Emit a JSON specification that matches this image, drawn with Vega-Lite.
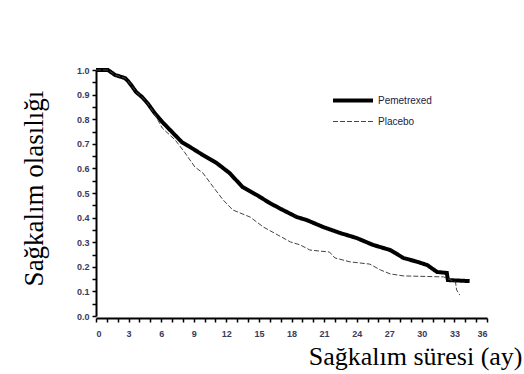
{
  "$schema": "https://vega.github.io/schema/vega-lite/v6.json",
  "width": 391,
  "height": 246,
  "autosize": {"type": "none"},
  "padding": {"left": 96, "top": 70, "right": 37, "bottom": 58},
  "background": "white",
  "config": {"view": {"stroke": null}},
  "data": {
    "values": [
      {"series": "Pemetrexed", "month": 0, "surv": 1.0},
      {"series": "Pemetrexed", "month": 1.1, "surv": 1.0},
      {"series": "Pemetrexed", "month": 1.75, "surv": 0.98},
      {"series": "Pemetrexed", "month": 2.67, "surv": 0.967},
      {"series": "Pemetrexed", "month": 2.95, "surv": 0.955},
      {"series": "Pemetrexed", "month": 3.3, "surv": 0.935},
      {"series": "Pemetrexed", "month": 3.7, "surv": 0.91},
      {"series": "Pemetrexed", "month": 4.24, "surv": 0.89},
      {"series": "Pemetrexed", "month": 4.8, "surv": 0.862},
      {"series": "Pemetrexed", "month": 5.4, "surv": 0.825},
      {"series": "Pemetrexed", "month": 6.1, "surv": 0.789},
      {"series": "Pemetrexed", "month": 7.0, "surv": 0.748},
      {"series": "Pemetrexed", "month": 7.9, "surv": 0.707},
      {"series": "Pemetrexed", "month": 8.66, "surv": 0.687},
      {"series": "Pemetrexed", "month": 9.85, "surv": 0.654},
      {"series": "Pemetrexed", "month": 11.1, "surv": 0.622},
      {"series": "Pemetrexed", "month": 12.3, "surv": 0.581},
      {"series": "Pemetrexed", "month": 13.5, "surv": 0.524},
      {"series": "Pemetrexed", "month": 14.8, "surv": 0.492},
      {"series": "Pemetrexed", "month": 16.0, "surv": 0.459},
      {"series": "Pemetrexed", "month": 17.2, "surv": 0.431},
      {"series": "Pemetrexed", "month": 18.5, "surv": 0.402},
      {"series": "Pemetrexed", "month": 19.4, "surv": 0.39},
      {"series": "Pemetrexed", "month": 20.9, "surv": 0.362},
      {"series": "Pemetrexed", "month": 22.5, "surv": 0.337},
      {"series": "Pemetrexed", "month": 24.0, "surv": 0.317},
      {"series": "Pemetrexed", "month": 25.5, "surv": 0.289},
      {"series": "Pemetrexed", "month": 27.1, "surv": 0.268},
      {"series": "Pemetrexed", "month": 28.3, "surv": 0.236},
      {"series": "Pemetrexed", "month": 29.6, "surv": 0.22},
      {"series": "Pemetrexed", "month": 30.5, "surv": 0.207},
      {"series": "Pemetrexed", "month": 31.4, "surv": 0.179},
      {"series": "Pemetrexed", "month": 32.3, "surv": 0.175},
      {"series": "Pemetrexed", "month": 32.4, "surv": 0.146},
      {"series": "Pemetrexed", "month": 34.4, "surv": 0.142},
      {"series": "Placebo", "month": 0, "surv": 1.0},
      {"series": "Placebo", "month": 1.1, "surv": 1.0},
      {"series": "Placebo", "month": 1.75, "surv": 0.98},
      {"series": "Placebo", "month": 2.67, "surv": 0.967},
      {"series": "Placebo", "month": 2.95, "surv": 0.955},
      {"series": "Placebo", "month": 3.3, "surv": 0.935},
      {"series": "Placebo", "month": 3.7, "surv": 0.91},
      {"series": "Placebo", "month": 4.24, "surv": 0.89},
      {"series": "Placebo", "month": 4.8, "surv": 0.862},
      {"series": "Placebo", "month": 5.4, "surv": 0.82},
      {"series": "Placebo", "month": 6.1, "surv": 0.764},
      {"series": "Placebo", "month": 7.3, "surv": 0.715},
      {"series": "Placebo", "month": 8.2, "surv": 0.663},
      {"series": "Placebo", "month": 9.1, "surv": 0.606},
      {"series": "Placebo", "month": 9.85, "surv": 0.581},
      {"series": "Placebo", "month": 10.8, "surv": 0.524},
      {"series": "Placebo", "month": 11.7, "surv": 0.472},
      {"series": "Placebo", "month": 12.6, "surv": 0.431},
      {"series": "Placebo", "month": 14.2, "surv": 0.402},
      {"series": "Placebo", "month": 15.4, "surv": 0.362},
      {"series": "Placebo", "month": 17.9, "surv": 0.301},
      {"series": "Placebo", "month": 18.8, "surv": 0.289},
      {"series": "Placebo", "month": 19.7, "surv": 0.268},
      {"series": "Placebo", "month": 21.5, "surv": 0.26},
      {"series": "Placebo", "month": 22.0, "surv": 0.236},
      {"series": "Placebo", "month": 23.4, "surv": 0.22},
      {"series": "Placebo", "month": 25.2, "surv": 0.211},
      {"series": "Placebo", "month": 26.2, "surv": 0.187},
      {"series": "Placebo", "month": 27.1, "surv": 0.171},
      {"series": "Placebo", "month": 28.3, "surv": 0.163},
      {"series": "Placebo", "month": 32.0, "surv": 0.159},
      {"series": "Placebo", "month": 33.1, "surv": 0.138},
      {"series": "Placebo", "month": 33.2, "surv": 0.106},
      {"series": "Placebo", "month": 33.5, "surv": 0.085}
    ]
  },
  "mark": {"type": "line", "interpolate": "linear", "clip": false},
  "encoding": {
    "x": {
      "field": "month",
      "type": "quantitative",
      "scale": {"domain": [0, 36], "nice": false},
      "axis": {
        "values": [0,1,2,3,4,5,6,7,8,9,10,11,12,13,14,15,16,17,18,19,20,21,22,23,24,25,26,27,28,29,30,31,32,33,34,35,36],
        "labelExpr": "datum.value % 3 === 0 ? datum.label : ''",
        "grid": false,
        "domainColor": "black",
        "domainWidth": 2,
        "tickColor": "black",
        "tickSize": 4,
        "tickWidth": 1.5,
        "offset": 2,
        "labelFont": "Liberation Sans",
        "labelFontWeight": "bold",
        "labelFontSize": 9,
        "labelColor": "#3a3a5a",
        "labelPadding": 7,
        "title": "Sağkalım süresi (ay)",
        "titleFont": "Liberation Serif",
        "titleFontWeight": "normal",
        "titleFontSize": 26,
        "titleColor": "black",
        "titleX": 426,
        "titleY": 46,
        "titleAlign": "right",
        "titleBaseline": "alphabetic"
      }
    },
    "y": {
      "field": "surv",
      "type": "quantitative",
      "scale": {"domain": [0, 1], "nice": false},
      "axis": {
        "values": [0,0.05,0.1,0.15,0.2,0.25,0.3,0.35,0.4,0.45,0.5,0.55,0.6,0.65,0.7,0.75,0.8,0.85,0.9,0.95,1.0],
        "labelExpr": "abs(datum.value*10 - round(datum.value*10)) < 0.01 ? format(datum.value, '.1f') : ''",
        "grid": false,
        "domainColor": "black",
        "domainWidth": 2,
        "tickColor": "black",
        "tickSize": 4,
        "tickWidth": 1.5,
        "labelFont": "Liberation Sans",
        "labelFontWeight": "bold",
        "labelFontSize": 9,
        "labelColor": "#3a3a5a",
        "labelPadding": 3,
        "title": "Sağkalım olasılığı",
        "titleFont": "Liberation Serif",
        "titleFontWeight": "normal",
        "titleFontSize": 27,
        "titleColor": "black",
        "titleAngle": -90,
        "titleX": -54,
        "titleY": 118,
        "titleAlign": "center",
        "titleBaseline": "alphabetic"
      }
    },
    "color": {
      "field": "series",
      "type": "nominal",
      "scale": {"domain": ["Pemetrexed", "Placebo"], "range": ["black", "#444444"]},
      "legend": {
        "orient": "none",
        "legendX": 235,
        "legendY": 25,
        "title": null,
        "symbolType": "stroke",
        "symbolSize": 1600,
        "clipHeight": 11,
        "labelFont": "Liberation Sans",
        "labelFontSize": 10,
        "labelColor": "#222244",
        "labelOffset": 3,
        "rowPadding": 10
      }
    },
    "strokeWidth": {
      "field": "series",
      "type": "nominal",
      "scale": {"domain": ["Pemetrexed", "Placebo"], "range": [4, 1]}
    },
    "strokeDash": {
      "field": "series",
      "type": "nominal",
      "scale": {"domain": ["Pemetrexed", "Placebo"], "range": [[1, 0], [5, 2]]}
    }
  }
}
